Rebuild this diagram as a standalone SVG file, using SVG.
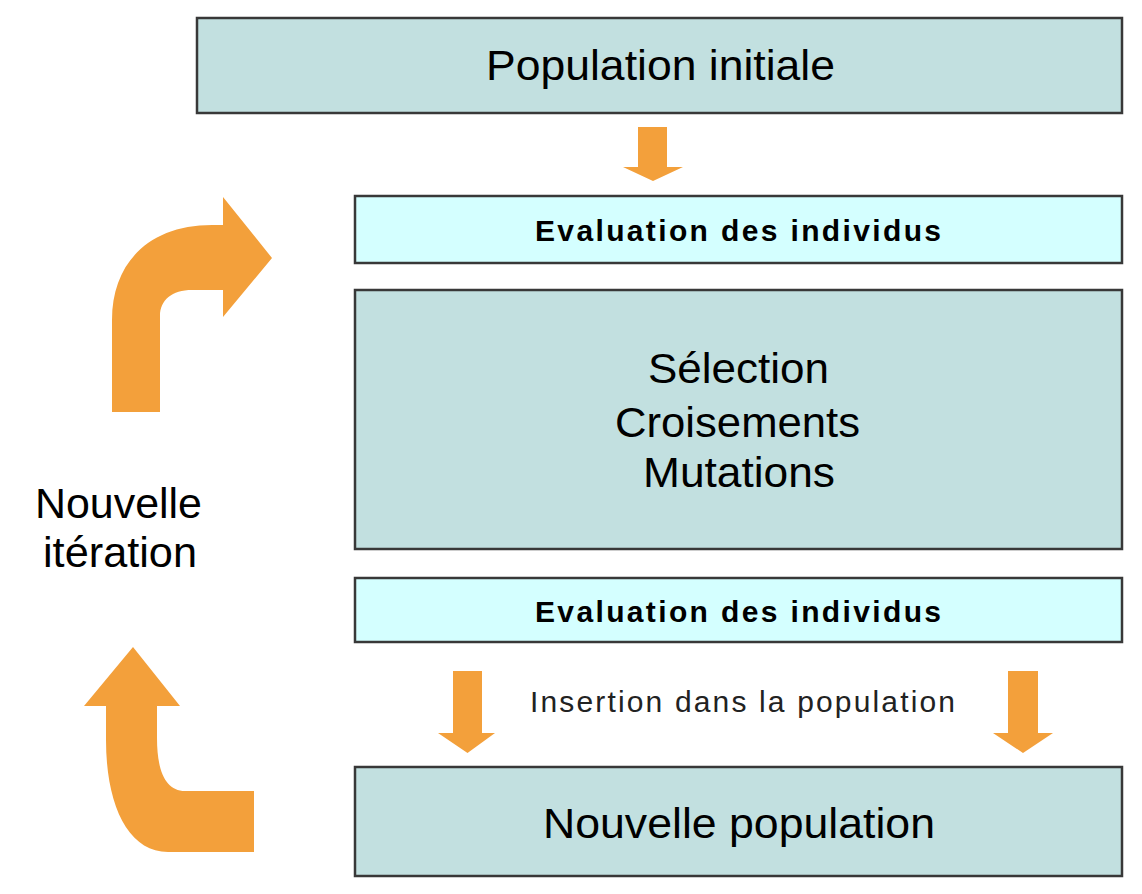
<svg xmlns="http://www.w3.org/2000/svg" width="1142" height="894" viewBox="0 0 1142 894">
<style>
.box{fill:#c2e0e0;stroke:#383838;stroke-width:2.5}
.eval{fill:#d4ffff;stroke:#383838;stroke-width:2.5}
.big{font-family:"Liberation Sans",Arial,sans-serif;font-size:42px;fill:#000}
.bold{font-family:"Liberation Sans",Arial,sans-serif;font-size:30px;font-weight:bold;fill:#000}
.small{font-family:"Liberation Sans",Arial,sans-serif;font-size:30px;fill:#222}
.arrow{fill:#f3a03b}
</style>
<rect width="1142" height="894" fill="#ffffff"/>
<g id="connectors">
<path class="arrow" d="M638,127 H667 V167 H683 L653,181 L623,167 H638 Z"/>
<path class="arrow" d="M453,671 H482 V733 H495 L467.5,753 L438,733 H453 Z"/>
<path class="arrow" d="M1008,671 H1038 V733 H1053 L1023,753 L993,733 H1008 Z"/>
<path class="arrow" d="M112,412 V320 C112,262 150,225 212,225 H223 V197 L272,258 L223,317 V290 H192 C172,290 160,300 160,316 V412 Z"/>
<path class="arrow" d="M254,791 V852 H168 C128,852 106,805 106,740 V706 H84 L133,647 L180,706 H157 V738 C157,772 166,791 185,791 Z"/>
</g>
<g id="node-population-initiale">
<rect class="box" x="197" y="18" width="925" height="95"/>
<text class="big" x="486" y="80" textLength="349" lengthAdjust="spacingAndGlyphs">Population initiale</text>
</g>
<g id="node-evaluation-1">
<rect class="eval" x="355" y="196" width="767" height="67"/>
<text class="bold" x="535" y="241" textLength="406" lengthAdjust="spacing">Evaluation des individus</text>
</g>
<g id="node-operateurs">
<rect class="box" x="355" y="290" width="767" height="259"/>
<text class="big" x="648" y="383" textLength="181" lengthAdjust="spacingAndGlyphs">Sélection</text>
<text class="big" x="615" y="437" textLength="245" lengthAdjust="spacingAndGlyphs">Croisements</text>
<text class="big" x="643" y="487" textLength="192" lengthAdjust="spacingAndGlyphs">Mutations</text>
</g>
<g id="node-evaluation-2">
<rect class="eval" x="355" y="578" width="767" height="64"/>
<text class="bold" x="535" y="622" textLength="406" lengthAdjust="spacing">Evaluation des individus</text>
</g>
<g id="label-insertion">
<text class="small" x="530" y="712" textLength="425" lengthAdjust="spacing">Insertion dans la population</text>
</g>
<g id="node-nouvelle-population">
<rect class="box" x="355" y="767" width="767" height="109"/>
<text class="big" x="543" y="838" textLength="392" lengthAdjust="spacingAndGlyphs">Nouvelle population</text>
</g>
<g id="label-iteration">
<text class="big" x="35" y="518" textLength="167" lengthAdjust="spacingAndGlyphs">Nouvelle</text>
<text class="big" x="43" y="567" textLength="154" lengthAdjust="spacingAndGlyphs">itération</text>
</g>
</svg>
